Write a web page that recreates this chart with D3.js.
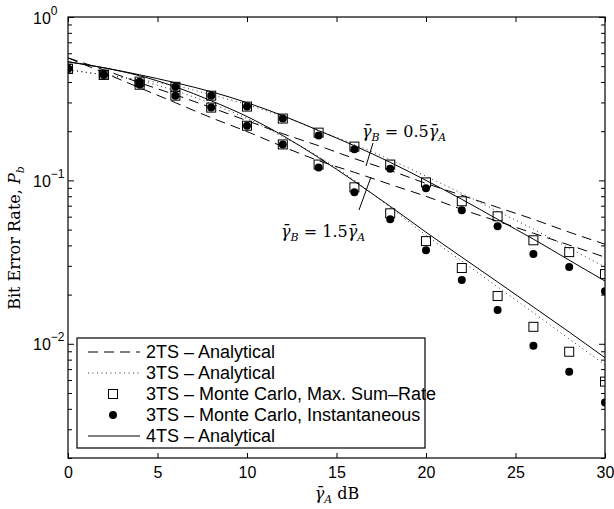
<!DOCTYPE html>
<html><head><meta charset="utf-8">
<script src="https://cdn.jsdelivr.net/npm/d3@7"></script>
<style>body{margin:0;background:#fff}svg{display:block}</style>
</head><body><svg id="c" width="614" height="509"></svg>
<script>
// ---------- data ----------
const snrDb = [0,2,4,6,8,10,12,14,16,18,20,22,24,26,28,30];
// 2TS analytical (dashed), two curves
const ts2_a = [0.562,0.475,0.396,0.334,0.279,0.232,0.193,0.163,0.136,0.115,0.0959,0.0810,0.0684,0.0578,0.0482,0.0407];
const ts2_b = [0.562,0.456,0.369,0.299,0.242,0.199,0.161,0.132,0.112,0.0945,0.0799,0.0665,0.0562,0.0475,0.0402,0.0339];
// 3TS analytical (dotted)
const ts3_half = [0.475,0.443,0.413,0.380,0.334,0.291,0.246,0.202,0.166,0.134,0.106,0.0833,0.0647,0.0503,0.0385,0.0295];
const ts3_oneHalf = [0.475,0.443,0.407,0.354,0.295,0.239,0.185,0.140,0.100,0.0684,0.0462,0.0321,0.0223,0.0155,0.0107,0.00745];
// 4TS analytical (solid)
const ts4_half = [0.532,0.489,0.443,0.396,0.349,0.299,0.249,0.202,0.163,0.129,0.100,0.0766,0.0578,0.0437,0.0325,0.0242];
const ts4_oneHalf = [0.532,0.489,0.437,0.374,0.307,0.246,0.188,0.138,0.0986,0.0694,0.0482,0.0339,0.0239,0.0168,0.0118,0.00822];
// 3TS Monte Carlo, Max. Sum-Rate (squares)
const mcMax_half = [0.482,0.443,0.402,0.374,0.330,0.283,0.239,0.196,0.161,0.125,0.0972,0.0745,0.0603,0.0430,0.0364,0.0267];
const mcMax_oneHalf = [0.482,0.443,0.385,0.330,0.279,0.216,0.166,0.125,0.0907,0.0629,0.0425,0.0291,0.0196,0.0127,0.00894,0.00587];
// 3TS Monte Carlo, Instantaneous (circles)
const mcInst_half = [0.482,0.443,0.402,0.374,0.330,0.283,0.239,0.188,0.155,0.118,0.0894,0.0656,0.0524,0.0354,0.0295,0.0210];
const mcInst_oneHalf = [0.482,0.443,0.385,0.330,0.279,0.216,0.166,0.120,0.0845,0.0578,0.0374,0.0246,0.0161,0.00972,0.00675,0.00437];

const xTicks = [0,5,10,15,20,25,30];
const yMajor = [1,0.1,0.01];
const yMajorExp = ["0","\u22121","\u22122"];
const legendLabels = ["2TS \u2013 Analytical","3TS \u2013 Analytical","3TS \u2013 Monte Carlo, Max. Sum\u2013Rate","3TS \u2013 Monte Carlo, Instantaneous","4TS \u2013 Analytical"];

// ---------- drawing ----------
const svg = d3.select("#c");
const L=68, R=605, T=17, B=458;
const x = d3.scaleLinear().domain([0,30]).range([L,R]);
const y = d3.scaleLog().domain([0.002,1]).range([B,T]);
const sans = "'Liberation Sans', Arial, Helvetica, sans-serif";
const serif = "'DejaVu Serif', 'Liberation Serif', serif";

const yMinor = [];
[1,0.1,0.01,0.001].forEach(d=>{for(let k=2;k<=9;k++){const v=d*k/10; if(v>=0.002 && v<1) yMinor.push(v);}});

svg.append("clipPath").attr("id","clip").append("rect").attr("x",L).attr("y",T).attr("width",R-L).attr("height",B-T);
const plot = svg.append("g").attr("clip-path","url(#clip)");

const line = d3.line().x((d,i)=>x(snrDb[i])).y(d=>y(d)).curve(d3.curveMonotoneX);
function drawLine(arr, dash, col){
  plot.append("path").datum(arr).attr("d",line).attr("fill","none").attr("stroke",col||"#000")
    .attr("stroke-width",1).attr("stroke-dasharray",dash);
}
drawLine(ts2_a,"10,6");
drawLine(ts2_b,"10,6");
drawLine(ts3_half,"1,3.5","#333");
drawLine(ts3_oneHalf,"1,3.5","#333");
drawLine(ts4_half,null);
drawLine(ts4_oneHalf,null);

function squares(arr){
  plot.append("g").selectAll("rect").data(arr).join("rect")
    .attr("x",(d,i)=>x(snrDb[i])-4.5).attr("y",d=>y(d)-4.5).attr("width",9).attr("height",9)
    .attr("fill","none").attr("stroke","#000").attr("stroke-width",1);
}
function circles(arr){
  plot.append("g").selectAll("circle").data(arr).join("circle")
    .attr("cx",(d,i)=>x(snrDb[i])).attr("cy",d=>y(d)).attr("r",4).attr("fill","#000");
}
squares(mcMax_half); squares(mcMax_oneHalf);
circles(mcInst_half); circles(mcInst_oneHalf);

// axes
function styleAxis(g){ g.select(".domain").remove(); g.selectAll("line").attr("stroke","#000"); }
svg.append("g").attr("transform",`translate(0,${B})`)
  .call(d3.axisBottom(x).tickValues(xTicks).tickSize(-5).tickPadding(9).tickFormat(d3.format("d")))
  .call(styleAxis).selectAll("text").attr("font-family",sans).attr("font-size",16).attr("fill","#000");
svg.append("g").attr("transform",`translate(0,${T})`)
  .call(d3.axisTop(x).tickValues(xTicks).tickSize(-5).tickFormat(""))
  .call(styleAxis);
svg.append("g").attr("transform",`translate(${L},0)`)
  .call(d3.axisLeft(y).tickValues(yMinor).tickSize(-4).tickFormat("")).call(styleAxis);
svg.append("g").attr("transform",`translate(${R},0)`)
  .call(d3.axisRight(y).tickValues(yMinor).tickSize(-4).tickFormat("")).call(styleAxis);
svg.append("g").attr("transform",`translate(${R},0)`)
  .call(d3.axisRight(y).tickValues(yMajor).tickSize(-6).tickFormat("")).call(styleAxis);
const yl = svg.append("g").attr("transform",`translate(${L},0)`)
  .call(d3.axisLeft(y).tickValues(yMajor).tickSize(-6).tickFormat("")).call(styleAxis);
yl.selectAll(".tick").each(function(d,i){
  const t = d3.select(this).append("text").attr("x",-35).attr("y",6).attr("text-anchor","start")
    .attr("font-family",sans).attr("font-size",16).attr("fill","#000");
  t.append("tspan").text("10");
  t.append("tspan").attr("dy",-9).attr("font-size",12).text(yMajorExp[i]);
});
svg.append("rect").attr("x",L).attr("y",T).attr("width",R-L).attr("height",B-T)
  .attr("fill","none").attr("stroke","#000").attr("stroke-width",1.2);

// annotations
function gammaLabel(sel, parts){
  parts.forEach(p=>{
    const ts = sel.append("tspan").text(p.t);
    if(p.it) ts.attr("font-style","italic");
    if(p.sub){ ts.attr("font-size",11).attr("dy",4); }
    if(p.up){ ts.attr("dy",-4); }
  });
}
const a1 = svg.append("text").attr("x",362).attr("y",137).attr("font-family",serif).attr("font-size",16).attr("fill","#000");
gammaLabel(a1,[{t:"\u03b3\u0304",it:1},{t:"B",it:1,sub:1},{t:" = 0.5",up:1},{t:"\u03b3\u0304",it:1},{t:"A",it:1,sub:1}]);
const a2 = svg.append("text").attr("x",281).attr("y",237).attr("font-family",serif).attr("font-size",16).attr("fill","#000");
gammaLabel(a2,[{t:"\u03b3\u0304",it:1},{t:"B",it:1,sub:1},{t:" = 1.5",up:1},{t:"\u03b3\u0304",it:1},{t:"A",it:1,sub:1}]);
svg.append("line").attr("x1",373).attr("y1",143).attr("x2",366).attr("y2",166).attr("stroke","#000");
svg.append("line").attr("x1",371).attr("y1",177).attr("x2",359).attr("y2",210).attr("stroke","#000");

// axis titles
const xt = svg.append("text").attr("x",337).attr("y",499).attr("text-anchor","middle")
  .attr("font-family",serif).attr("font-size",16).attr("fill","#000");
xt.append("tspan").attr("font-style","italic").text("\u03b3\u0304");
xt.append("tspan").attr("font-style","italic").attr("font-size",11).attr("dy",4).text("A");
xt.append("tspan").attr("dy",-4).text(" dB");
const ytl = svg.append("text").attr("transform","translate(20,238) rotate(-90)").attr("text-anchor","middle")
  .attr("font-family",serif).attr("font-size",16).attr("fill","#000");
ytl.append("tspan").text("Bit Error Rate, ");
ytl.append("tspan").attr("font-style","italic").text("P");
ytl.append("tspan").attr("font-style","italic").attr("font-size",11).attr("dy",4).text("b");

// legend
const lg = svg.append("g");
lg.append("rect").attr("x",77).attr("y",338).attr("width",348).attr("height",110)
  .attr("fill","#fff").attr("stroke","#000").attr("stroke-width",1.2);
const rowY = d3.scalePoint().domain(legendLabels).range([352,436]);
legendLabels.forEach((lab,i)=>{
  const yy = rowY(lab);
  if(i===0) lg.append("line").attr("x1",88).attr("x2",140).attr("y1",yy).attr("y2",yy).attr("stroke","#000").attr("stroke-dasharray","10,6");
  if(i===1) lg.append("line").attr("x1",88).attr("x2",140).attr("y1",yy).attr("y2",yy).attr("stroke","#333").attr("stroke-dasharray","1,3.5");
  if(i===2) lg.append("rect").attr("x",108.5).attr("y",yy-4.5).attr("width",9).attr("height",9).attr("fill","none").attr("stroke","#000");
  if(i===3) lg.append("circle").attr("cx",113).attr("cy",yy).attr("r",4).attr("fill","#000");
  if(i===4) lg.append("line").attr("x1",88).attr("x2",140).attr("y1",yy).attr("y2",yy).attr("stroke","#000");
  lg.append("text").attr("x",146).attr("y",yy+6).attr("font-family",sans).attr("font-size",18).attr("fill","#000").text(lab);
});
</script></body></html>
